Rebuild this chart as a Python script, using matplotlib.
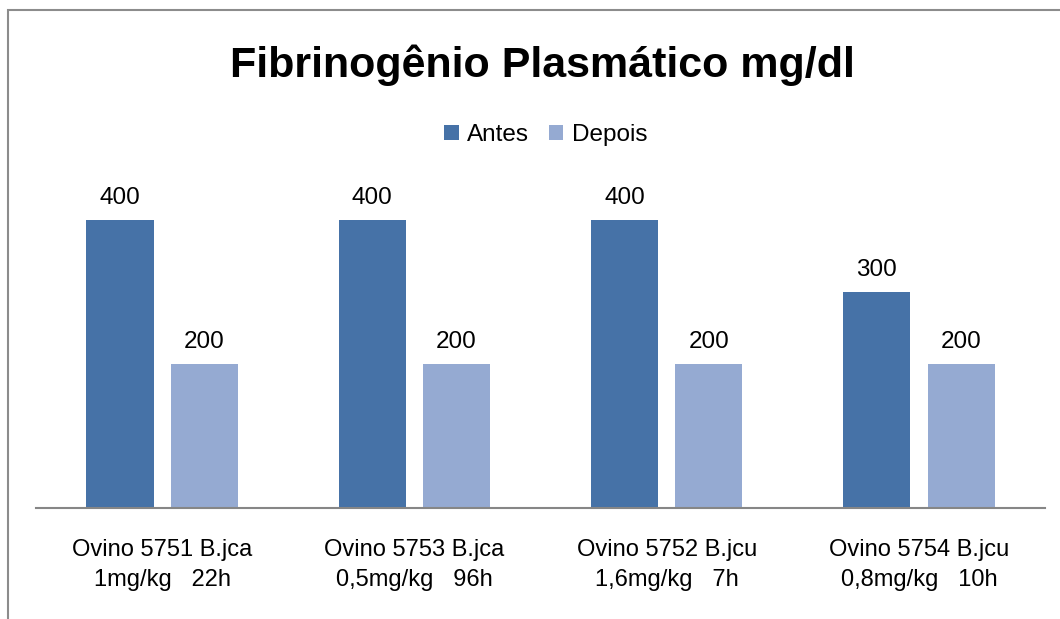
import numpy as np
import matplotlib.pyplot as plt
from matplotlib.patches import Rectangle

plt.rcParams['font.family'] = ['Liberation Sans', 'DejaVu Sans']

# data
categories = ['Ovino 5751 B.jca\n1mg/kg   22h',
              'Ovino 5753 B.jca\n0,5mg/kg   96h',
              'Ovino 5752 B.jcu\n1,6mg/kg   7h',
              'Ovino 5754 B.jcu\n0,8mg/kg   10h']
antes = [400, 400, 400, 300]
depois = [200, 200, 200, 200]
series_names = ['Antes', 'Depois']
title = 'Fibrinogênio Plasmático mg/dl'

fig = plt.figure(figsize=(10.6, 6.19), dpi=100)
ax = fig.add_axes([0.034, 0.179, 0.952, 0.582])

x = np.arange(len(categories))
w = 0.266
off = 0.167
b1 = ax.bar(x - off, antes, w, color='#4672A7', label=series_names[0])
b2 = ax.bar(x + off, depois, w, color='#95AAD2', label=series_names[1])

for bars, vals in ((b1, antes), (b2, depois)):
    for r, v in zip(bars, vals):
        ax.annotate(str(v), (r.get_x() + r.get_width() / 2, v),
                    xytext=(0, 8), textcoords='offset points',
                    ha='center', va='bottom', fontsize=17.5)

ax.set_xlim(-0.5, len(categories) - 0.5)
ax.set_ylim(0, 500)
ax.set_xticks(x)
ax.set_xticklabels(categories, fontsize=17, linespacing=1.5)
ax.tick_params(axis='x', length=0, pad=22)
ax.set_yticks([])
for s in ['top', 'right', 'left']:
    ax.spines[s].set_visible(False)
ax.spines['bottom'].set_color('#868686')
ax.spines['bottom'].set_linewidth(1.5)

fig.text(0.512, 0.895, title, ha='center', va='center',
         fontsize=31, fontweight='bold')
fig.legend(handles=[b1, b2], loc='center', bbox_to_anchor=(0.515, 0.782),
           ncol=2, frameon=False, fontsize=17.5, handlelength=0.6,
           handleheight=0.6, handletextpad=0.35, columnspacing=0.8)

# outer chart frame (cropped at right and bottom)
fig.patches.append(Rectangle((8 / 1060, -0.1), 1.2, 1.1 - 10 / 619,
                             transform=fig.transFigure, fill=False,
                             edgecolor='#8c8c8c', linewidth=1.5))

fig.savefig('out.png', dpi=100)
